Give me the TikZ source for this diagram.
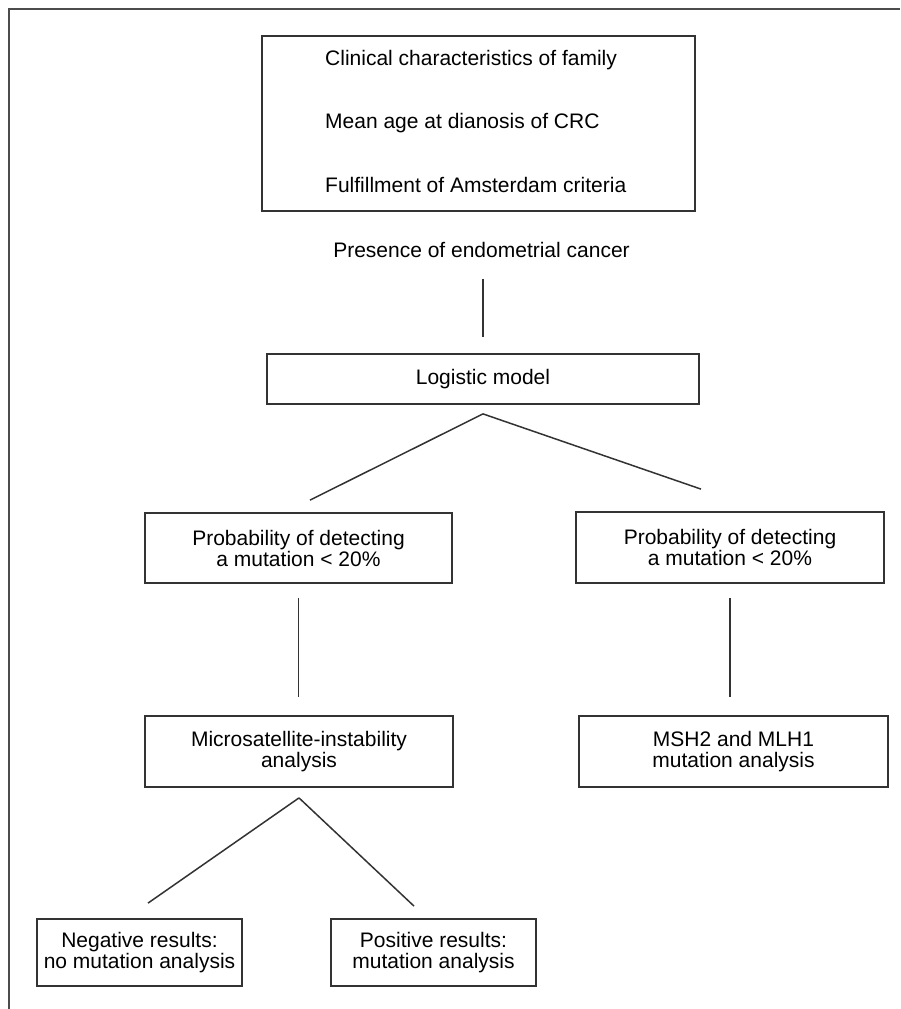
\documentclass[tikz,border=0pt]{standalone}
\usepackage{fontspec}
\setmainfont{Liberation Sans}
\begin{document}
\begin{tikzpicture}[x=1pt,y=-1pt,
  box/.style={draw=black!80, line width=1.8pt, inner sep=0pt, align=center, font=\fontsize{21}{21}\selectfont},
  txt/.style={inner sep=0pt, font=\fontsize{21}{21}\selectfont},
  conn/.style={draw=black!80, line width=1.5pt},
  frame/.style={draw=black!70, line width=2pt}]
\useasboundingbox (0,0) rectangle (900,1009);
\draw[frame] (900,9) -- (9,9) -- (9,1009);
% top box
\node[box, minimum width=433pt, minimum height=175pt] (top) at (478.5,123.5) {};
\node[txt, anchor=base west] (t1) at (325,65) {Clinical characteristics of family};
\node[txt, anchor=base west] (t2) at (325,128) {Mean age at dianosis of CRC};
\node[txt, anchor=base west] (t3) at (325,192) {Fulfillment of Amsterdam criteria};
\node[txt, anchor=base] (presence) at (481.5,257) {Presence of endometrial cancer};
% boxes
\node[box, minimum width=432pt, minimum height=50pt] (logistic) at (483,379) {Logistic model};
\node[box, minimum width=307pt, minimum height=70pt] (probL) at (298.5,548) {Probability of detecting\\a mutation < 20\%};
\node[box, minimum width=308pt, minimum height=71pt] (probR) at (730,547.5) {Probability of detecting\\a mutation < 20\%};
\node[box, minimum width=308pt, minimum height=71pt] (micro) at (299,751.5) {Microsatellite-instability\\analysis};
\node[box, minimum width=309pt, minimum height=71pt] (msh) at (733.5,751.5) {MSH2 and MLH1\\mutation analysis};
\node[box, minimum width=205pt, minimum height=67pt] (neg) at (139.5,952.5) {Negative results:\\no mutation analysis};
\node[box, minimum width=205pt, minimum height=67pt] (pos) at (433.5,952.5) {Positive results:\\mutation analysis};
% connectors
\draw[conn] ([yshift=-21.5pt]presence.south -| logistic.north) -- ([yshift=16pt]logistic.north);
\draw[conn] ([yshift=-9pt]logistic.south) -- ([xshift=11.5pt,yshift=12pt]probL.north);
\draw[conn] ([yshift=-9pt]logistic.south) -- ([xshift=-29pt,yshift=22pt]probR.north);
\draw[conn] ([yshift=-14pt]probL.south) -- ([yshift=18pt]probL.south |- micro.north);
\draw[conn] ([yshift=-14pt]probR.south) -- ([yshift=18pt]probR.south |- msh.north);
\draw[conn] ([yshift=-10pt]micro.south) -- ([xshift=8.5pt,yshift=15pt]neg.north);
\draw[conn] ([yshift=-10pt]micro.south) -- ([xshift=-19.5pt,yshift=12pt]pos.north);
\end{tikzpicture}
\end{document}
